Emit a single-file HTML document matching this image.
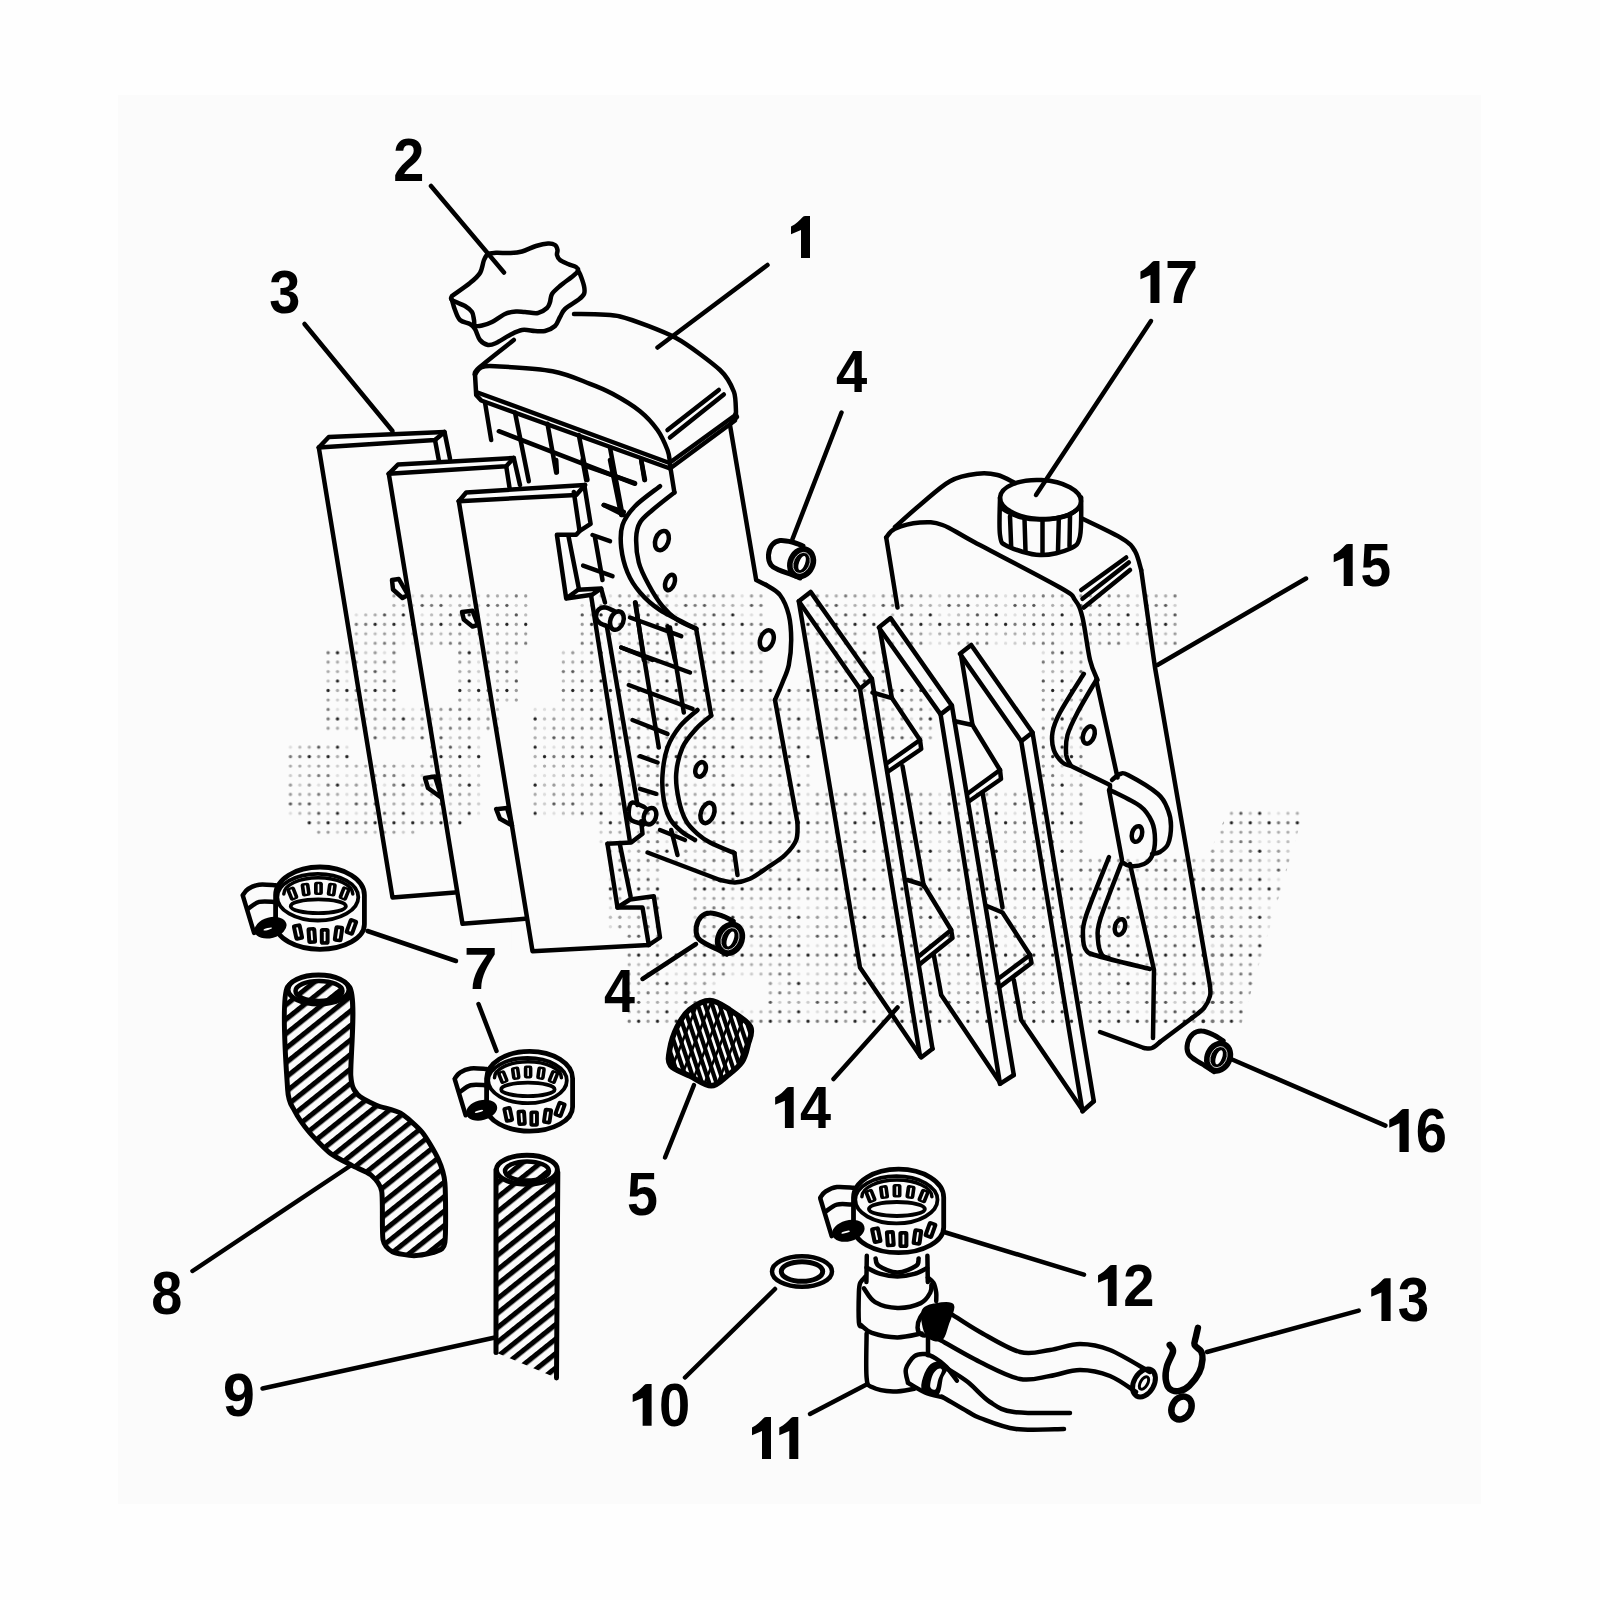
<!DOCTYPE html>
<html><head><meta charset="utf-8"><style>
html,body{margin:0;padding:0;background:#fefefe;width:1600px;height:1600px;overflow:hidden;font-family:"Liberation Sans",sans-serif}
svg{position:absolute;left:0;top:0}
</style></head><body>
<svg width="1600" height="1600" viewBox="0 0 1600 1600">
<defs>
<pattern id="dots" x="323.40" y="591.27" width="65.87" height="66.15" patternUnits="userSpaceOnUse"><circle cx="4.71" cy="4.72" r="1.65" fill="#999"/><circle cx="14.12" cy="4.72" r="1.65" fill="#aaa"/><circle cx="23.52" cy="4.72" r="1.65" fill="#ddd"/><circle cx="32.94" cy="4.72" r="1.65" fill="#999"/><circle cx="42.34" cy="4.72" r="1.65" fill="#aaa"/><circle cx="51.76" cy="4.72" r="1.65" fill="#aaa"/><circle cx="61.16" cy="4.72" r="1.65" fill="#777"/><circle cx="4.71" cy="14.17" r="1.65" fill="#aaa"/><circle cx="14.12" cy="14.17" r="1.65" fill="#aaa"/><circle cx="23.52" cy="14.17" r="1.65" fill="#ccc"/><circle cx="32.94" cy="14.17" r="1.65" fill="#555"/><circle cx="42.34" cy="14.17" r="1.65" fill="#777"/><circle cx="51.76" cy="14.17" r="1.65" fill="#555"/><circle cx="61.16" cy="14.17" r="1.65" fill="#ccc"/><circle cx="4.71" cy="23.62" r="1.65" fill="#bbb"/><circle cx="14.12" cy="23.62" r="1.65" fill="#222"/><circle cx="23.52" cy="23.62" r="1.65" fill="#ddd"/><circle cx="32.94" cy="23.62" r="1.65" fill="#ddd"/><circle cx="42.34" cy="23.62" r="1.65" fill="#bbb"/><circle cx="51.76" cy="23.62" r="1.65" fill="#aaa"/><circle cx="61.16" cy="23.62" r="1.65" fill="#555"/><circle cx="4.71" cy="33.07" r="1.65" fill="#222"/><circle cx="14.12" cy="33.07" r="1.65" fill="#aaa"/><circle cx="23.52" cy="33.07" r="1.65" fill="#222"/><circle cx="32.94" cy="33.07" r="1.65" fill="#777"/><circle cx="42.34" cy="33.07" r="1.65" fill="#777"/><circle cx="51.76" cy="33.07" r="1.65" fill="#222"/><circle cx="61.16" cy="33.07" r="1.65" fill="#999"/><circle cx="4.71" cy="42.52" r="1.65" fill="#999"/><circle cx="14.12" cy="42.52" r="1.65" fill="#ccc"/><circle cx="23.52" cy="42.52" r="1.65" fill="#aaa"/><circle cx="32.94" cy="42.52" r="1.65" fill="#aaa"/><circle cx="42.34" cy="42.52" r="1.65" fill="#aaa"/><circle cx="51.76" cy="42.52" r="1.65" fill="#bbb"/><circle cx="61.16" cy="42.52" r="1.65" fill="#999"/><circle cx="4.71" cy="51.97" r="1.65" fill="#777"/><circle cx="14.12" cy="51.97" r="1.65" fill="#ddd"/><circle cx="23.52" cy="51.97" r="1.65" fill="#ddd"/><circle cx="32.94" cy="51.97" r="1.65" fill="#ccc"/><circle cx="42.34" cy="51.97" r="1.65" fill="#bbb"/><circle cx="51.76" cy="51.97" r="1.65" fill="#999"/><circle cx="61.16" cy="51.97" r="1.65" fill="#777"/><circle cx="4.71" cy="61.42" r="1.65" fill="#777"/><circle cx="14.12" cy="61.42" r="1.65" fill="#222"/><circle cx="23.52" cy="61.42" r="1.65" fill="#bbb"/><circle cx="32.94" cy="61.42" r="1.65" fill="#999"/><circle cx="42.34" cy="61.42" r="1.65" fill="#ccc"/><circle cx="51.76" cy="61.42" r="1.65" fill="#999"/><circle cx="61.16" cy="61.42" r="1.65" fill="#ddd"/></pattern>
<pattern id="hatch" width="11.3" height="20" patternUnits="userSpaceOnUse" patternTransform="rotate(51.3)">
<rect x="0" y="0" width="5.1" height="20" fill="#000"/>
</pattern>
</defs>
<rect x="118" y="95" width="1363" height="1409" fill="#fbfbfb"/>
<rect x="389.27" y="591.27" width="141.15" height="18.90" fill="url(#dots)"/>
<rect x="351.62" y="610.17" width="178.79" height="37.80" fill="url(#dots)"/>
<rect x="323.40" y="647.98" width="75.28" height="56.70" fill="url(#dots)"/>
<rect x="455.13" y="647.98" width="65.87" height="56.70" fill="url(#dots)"/>
<rect x="323.40" y="704.67" width="178.79" height="28.35" fill="url(#dots)"/>
<rect x="370.45" y="733.02" width="112.92" height="9.45" fill="url(#dots)"/>
<rect x="426.91" y="742.48" width="56.46" height="18.90" fill="url(#dots)"/>
<rect x="285.75" y="742.48" width="65.87" height="18.90" fill="url(#dots)"/>
<rect x="285.75" y="761.38" width="197.61" height="56.70" fill="url(#dots)"/>
<rect x="304.58" y="818.08" width="159.97" height="9.45" fill="url(#dots)"/>
<rect x="313.99" y="827.52" width="103.51" height="9.45" fill="url(#dots)"/>
<rect x="577.47" y="591.27" width="602.24" height="56.70" fill="url(#dots)"/>
<rect x="558.64" y="647.98" width="536.37" height="56.70" fill="url(#dots)"/>
<rect x="530.41" y="704.67" width="564.60" height="141.75" fill="url(#dots)"/>
<rect x="605.70" y="846.42" width="489.32" height="85.05" fill="url(#dots)"/>
<rect x="624.52" y="931.47" width="470.50" height="94.50" fill="url(#dots)"/>
<rect x="1095.01" y="855.88" width="131.74" height="170.10" fill="url(#dots)"/>
<path d="M1230 807.6 L1305 807.6 L1241 1026 L1201.4 1026 L1201.4 870 Z" fill="url(#dots)"/>
<rect x="765.66" y="591.27" width="37.64" height="94.50" fill="#fbfbfb"/>
<rect x="888.00" y="647.98" width="150.56" height="37.80" fill="#fbfbfb"/>
<rect x="935.05" y="685.77" width="103.51" height="56.70" fill="#fbfbfb"/>
<rect x="812.72" y="742.48" width="225.84" height="47.25" fill="#fbfbfb"/>
<rect x="1085.61" y="647.98" width="94.10" height="207.90" fill="#fbfbfb"/>
<rect x="511.60" y="818.08" width="84.69" height="132.30" fill="#fbfbfb"/>
<rect x="662.15" y="865.33" width="28.23" height="85.05" fill="#fbfbfb"/>
<rect x="718.62" y="978.72" width="47.05" height="28.35" fill="#fbfbfb"/>
<path d="M803 546 C801.2 545.3 795.8 542.9 792 542 C788.2 541.1 783.3 540 780 540.5 C776.7 541 773.9 542.6 772 545 C770.1 547.4 768.7 551.7 768.5 555 C768.3 558.3 769.2 562.5 771 565 C772.8 567.5 775.8 568.5 779 570 C782.2 571.5 786.5 572.7 790 574 C793.5 575.3 798.3 577.3 800 578" fill="none" stroke="#000" stroke-width="5" stroke-linecap="round" stroke-linejoin="round"/>
<ellipse cx="801.6" cy="562.9" rx="11.5" ry="14.5" transform="rotate(25 801.6 562.9)" fill="#000" stroke="#000" stroke-width="5"/>
<ellipse cx="801.6" cy="562.9" rx="8" ry="11" transform="rotate(25 801.6 562.9)" fill="none" stroke="#fff" stroke-width="0.7"/>
<ellipse cx="802.1" cy="562.9" rx="3" ry="7.5" transform="rotate(20 801.6 562.9)" fill="#fff"/>
<path d="M733.3 921.3 C731.5 920.4 726.2 917.2 722.3 915.9 C718.4 914.5 713.4 912.8 709.9 913 C706.4 913.1 703.3 914.5 701.1 916.8 C698.8 919.1 696.8 923.4 696.3 926.9 C695.8 930.3 696.3 934.8 697.8 937.6 C699.4 940.4 702.5 941.8 705.6 943.7 C708.8 945.6 713.2 947.3 716.7 949.1 C720.2 950.8 725 953.5 726.7 954.3" fill="none" stroke="#000" stroke-width="5" stroke-linecap="round" stroke-linejoin="round"/>
<ellipse cx="730" cy="938.8" rx="12.1" ry="15.2" transform="rotate(25 730 938.8)" fill="#000" stroke="#000" stroke-width="5"/>
<ellipse cx="730" cy="938.8" rx="8.4" ry="11.6" transform="rotate(25 730 938.8)" fill="none" stroke="#fff" stroke-width="0.7"/>
<ellipse cx="730.5" cy="938.8" rx="3.2" ry="7.9" transform="rotate(20 730 938.8)" fill="#fff"/>
<path d="M1223.2 1040.8 C1221.5 1039.8 1216.8 1036.4 1213.2 1034.8 C1209.6 1033.1 1205 1031.1 1201.7 1031 C1198.3 1030.8 1195.3 1031.9 1193 1033.9 C1190.6 1035.9 1188.4 1039.8 1187.6 1043 C1186.8 1046.3 1186.9 1050.5 1188.2 1053.3 C1189.4 1056.1 1192.2 1057.7 1195.1 1059.8 C1197.9 1061.8 1201.9 1063.8 1205.1 1065.8 C1208.3 1067.8 1212.6 1070.6 1214.1 1071.6" fill="none" stroke="#000" stroke-width="5" stroke-linecap="round" stroke-linejoin="round"/>
<ellipse cx="1218.6" cy="1057.1" rx="11.5" ry="14.5" transform="rotate(25 1218.6 1057.1)" fill="#000" stroke="#000" stroke-width="5"/>
<ellipse cx="1218.6" cy="1057.1" rx="8" ry="11" transform="rotate(25 1218.6 1057.1)" fill="none" stroke="#fff" stroke-width="0.7"/>
<ellipse cx="1219.1" cy="1057.1" rx="3" ry="7.5" transform="rotate(20 1218.6 1057.1)" fill="#fff"/>
<path d="M798.8 601.2 L810.6 591.9 L871.9 678.8 L860 688.8 L798.8 601.2" fill="none" stroke="#000" stroke-width="4.5" stroke-linecap="round" stroke-linejoin="round"/>
<path d="M798.8 601.2 L860 967.5 L921.2 1057.5 L932.5 1048.8" fill="none" stroke="#000" stroke-width="4.5" stroke-linecap="round" stroke-linejoin="round"/>
<path d="M860 688.8 L920 1056" fill="none" stroke="#000" stroke-width="4.5" stroke-linecap="round" stroke-linejoin="round"/>
<path d="M871.9 678.8 L932.5 1048.8" fill="none" stroke="#000" stroke-width="4.5" stroke-linecap="round" stroke-linejoin="round"/>
<path d="M872.5 692.5 L891.9 698.1 L920 740 L888.1 762.5" fill="none" stroke="#000" stroke-width="4.5" stroke-linecap="round" stroke-linejoin="round"/>
<path d="M920 740 L921.2 749 L887.5 772" fill="none" stroke="#000" stroke-width="4.5" stroke-linecap="round" stroke-linejoin="round"/>
<path d="M880 630 L891.9 698.1" fill="none" stroke="#000" stroke-width="4.5" stroke-linecap="round" stroke-linejoin="round"/>
<path d="M902.5 766.2 L923.8 886.2" fill="none" stroke="#000" stroke-width="4.5" stroke-linecap="round" stroke-linejoin="round"/>
<path d="M933.8 955 L941.2 995 L1000 1082.5" fill="none" stroke="#000" stroke-width="4.5" stroke-linecap="round" stroke-linejoin="round"/>
<path d="M907.5 880 L923.8 885 L951.2 930 L918.8 956.2" fill="none" stroke="#000" stroke-width="4.5" stroke-linecap="round" stroke-linejoin="round"/>
<path d="M951.2 930 L952.5 938 L920 964" fill="none" stroke="#000" stroke-width="4.5" stroke-linecap="round" stroke-linejoin="round"/>
<path d="M878.8 627.5 L890.6 618.1 L951.9 705.6 L940.6 714.4 L878.8 627.5" fill="none" stroke="#000" stroke-width="4.5" stroke-linecap="round" stroke-linejoin="round"/>
<path d="M940.6 714.4 L1000 1083.8" fill="none" stroke="#000" stroke-width="4.5" stroke-linecap="round" stroke-linejoin="round"/>
<path d="M951.9 705.6 L1013.8 1075" fill="none" stroke="#000" stroke-width="4.5" stroke-linecap="round" stroke-linejoin="round"/>
<path d="M1000 1083.8 L1013.8 1075" fill="none" stroke="#000" stroke-width="4.5" stroke-linecap="round" stroke-linejoin="round"/>
<path d="M955 721.2 L972.5 725 L1000 770 L967.5 793.8" fill="none" stroke="#000" stroke-width="4.5" stroke-linecap="round" stroke-linejoin="round"/>
<path d="M1000 770 L1001 779 L968 802" fill="none" stroke="#000" stroke-width="4.5" stroke-linecap="round" stroke-linejoin="round"/>
<path d="M961 655 L972.5 725" fill="none" stroke="#000" stroke-width="4.5" stroke-linecap="round" stroke-linejoin="round"/>
<path d="M982.5 792.5 L1002.5 907.5" fill="none" stroke="#000" stroke-width="4.5" stroke-linecap="round" stroke-linejoin="round"/>
<path d="M1013.8 980 L1021.2 1020 L1082.5 1110" fill="none" stroke="#000" stroke-width="4.5" stroke-linecap="round" stroke-linejoin="round"/>
<path d="M987.5 906.2 L1002.5 912.5 L1030 955 L1000 977.5" fill="none" stroke="#000" stroke-width="4.5" stroke-linecap="round" stroke-linejoin="round"/>
<path d="M1030 955 L1031.5 963 L999.5 987" fill="none" stroke="#000" stroke-width="4.5" stroke-linecap="round" stroke-linejoin="round"/>
<path d="M960 653.8 L971.2 645 L1032.5 732.5 L1021.2 741.2 L960 653.8" fill="none" stroke="#000" stroke-width="4.5" stroke-linecap="round" stroke-linejoin="round"/>
<path d="M1021.2 741.2 L1082.5 1111.2" fill="none" stroke="#000" stroke-width="4.5" stroke-linecap="round" stroke-linejoin="round"/>
<path d="M1032.5 732.5 L1093.8 1101.2" fill="none" stroke="#000" stroke-width="4.5" stroke-linecap="round" stroke-linejoin="round"/>
<path d="M1082.5 1111.2 L1093.8 1101.2" fill="none" stroke="#000" stroke-width="4.5" stroke-linecap="round" stroke-linejoin="round"/>
<path d="M895 527 C899.2 523.3 910.8 512.6 920 505 C929.2 497.4 940.4 486.5 950 481.2 C959.6 476 969.6 474.8 977.5 473.8 C985.4 472.7 991.2 473.5 997.5 475 C1003.8 476.5 1012.1 481.7 1015 483" fill="none" stroke="#000" stroke-width="4.5" stroke-linecap="round" stroke-linejoin="round"/>
<path d="M886.2 537.5 C887.7 536 889.4 531.2 895 528.8 C900.6 526.2 912.1 523.1 920 522.5 C927.9 521.9 933.3 521.7 942.5 525 C951.7 528.3 955.4 532.1 975 542.5 C994.6 552.9 1043.3 577.9 1060 587.5 C1076.7 597.1 1071.2 595 1075 600 C1078.8 605 1080 607.5 1082.5 617.5 C1085 627.5 1087.5 649.6 1090 660 C1092.5 670.4 1096.2 676.7 1097.5 680" fill="none" stroke="#000" stroke-width="4.5" stroke-linecap="round" stroke-linejoin="round"/>
<path d="M886.2 537.5 L897.5 607.5" fill="none" stroke="#000" stroke-width="4.5" stroke-linecap="round" stroke-linejoin="round"/>
<path d="M1082.5 518.8 C1089.2 522.1 1113.8 533.3 1122.5 538.8 C1131.2 544.2 1131.9 546 1135 551.2 C1138.1 556.5 1140.2 566.9 1141.2 570" fill="none" stroke="#000" stroke-width="4.5" stroke-linecap="round" stroke-linejoin="round"/>
<path d="M1141.2 570 L1155 667.5 L1210 986" fill="none" stroke="#000" stroke-width="4.5" stroke-linecap="round" stroke-linejoin="round"/>
<path d="M1210 986 C1210 987.7 1211 992.3 1210 996 C1209 999.7 1207 1004.3 1204 1008 C1201 1011.7 1194 1016.3 1192 1018" fill="none" stroke="#000" stroke-width="4.5" stroke-linecap="round" stroke-linejoin="round"/>
<path d="M1192 1018 L1160 1042" fill="none" stroke="#000" stroke-width="4.5" stroke-linecap="round" stroke-linejoin="round"/>
<path d="M1160 1042 C1158.7 1043 1154.7 1047 1152 1048 C1149.3 1049 1145.3 1048 1144 1048" fill="none" stroke="#000" stroke-width="4.5" stroke-linecap="round" stroke-linejoin="round"/>
<path d="M1144 1048 L1100 1032" fill="none" stroke="#000" stroke-width="4.5" stroke-linecap="round" stroke-linejoin="round"/>
<path d="M1081.2 590 L1126.2 557.5" fill="none" stroke="#000" stroke-width="4.5" stroke-linecap="round" stroke-linejoin="round"/>
<path d="M1082.5 598.8 L1128.8 562.5" fill="none" stroke="#000" stroke-width="4.5" stroke-linecap="round" stroke-linejoin="round"/>
<path d="M1083.8 607.5 L1130 570" fill="none" stroke="#000" stroke-width="4.5" stroke-linecap="round" stroke-linejoin="round"/>
<path d="M1083.8 673.8 C1079.8 680.2 1065.2 702.7 1060 712.5 C1054.8 722.3 1053.5 726.2 1052.5 732.5 C1051.5 738.8 1052.1 745 1053.8 750 C1055.4 755 1059.8 759.9 1062.5 762.5 C1065.2 765.1 1068.8 765 1070 765.5" fill="none" stroke="#000" stroke-width="4.5" stroke-linecap="round" stroke-linejoin="round"/>
<path d="M1096.2 680 C1093.1 685.4 1082.3 703.3 1077.5 712.5 C1072.7 721.7 1069.4 727.9 1067.5 735 C1065.6 742.1 1065.8 750 1066.2 755 C1066.8 760 1069.8 763.3 1070.5 765" fill="none" stroke="#000" stroke-width="4.5" stroke-linecap="round" stroke-linejoin="round"/>
<path d="M1070 765.5 L1110 785 L1110 788" fill="none" stroke="#000" stroke-width="4.5" stroke-linecap="round" stroke-linejoin="round"/>
<path d="M1096.2 680 L1117.5 777.5" fill="none" stroke="#000" stroke-width="4.5" stroke-linecap="round" stroke-linejoin="round"/>
<ellipse cx="1088.8" cy="735" rx="5.5" ry="9" transform="rotate(20 1088.8 735)" fill="none" stroke="#000" stroke-width="4.5"/>
<path d="M1112 780 C1113.3 779 1117.3 774.8 1120 774 C1122.7 773.2 1121.7 771.7 1128 775 C1134.3 778.3 1151.3 788.2 1158 794 C1164.7 799.8 1165.8 804.7 1168 810 C1170.2 815.3 1171 820.3 1171 826 C1171 831.7 1169.8 839.7 1168 844 C1166.2 848.3 1162.7 850.3 1160 852 C1157.3 853.7 1153.3 853.7 1152 854" fill="none" stroke="#000" stroke-width="4.5" stroke-linecap="round" stroke-linejoin="round"/>
<path d="M1110 790 C1115 792.7 1133 800.7 1140 806 C1147 811.3 1149.5 816.3 1152 822 C1154.5 827.7 1155 834.3 1155 840 C1155 845.7 1153.8 852 1152 856 C1150.2 860 1147.7 862.3 1144 864 C1140.3 865.7 1133.7 866.3 1130 866 C1126.3 865.7 1123.3 862.7 1122 862" fill="none" stroke="#000" stroke-width="4.5" stroke-linecap="round" stroke-linejoin="round"/>
<path d="M1109 790 L1122 860" fill="none" stroke="#000" stroke-width="4.5" stroke-linecap="round" stroke-linejoin="round"/>
<ellipse cx="1137" cy="834" rx="5" ry="8" transform="rotate(15 1137 834)" fill="none" stroke="#000" stroke-width="4.5"/>
<path d="M1109 857 C1105.2 866.8 1090.3 902.8 1086 916 C1081.7 929.2 1083 930.3 1083 936 C1083 941.7 1083.5 946.7 1086 950 C1088.5 953.3 1087.3 952.8 1098 956 C1108.7 959.2 1141.3 966.8 1150 969" fill="none" stroke="#000" stroke-width="4.5" stroke-linecap="round" stroke-linejoin="round"/>
<path d="M1121 864 C1117.5 873.3 1103.8 907.3 1100 920 C1096.2 932.7 1097.7 934.2 1098 940 C1098.3 945.8 1100.2 952 1102 955 C1103.8 958 1107.8 957.5 1109 958" fill="none" stroke="#000" stroke-width="4.5" stroke-linecap="round" stroke-linejoin="round"/>
<path d="M1130 864 L1154 970 L1153 1038" fill="none" stroke="#000" stroke-width="4.5" stroke-linecap="round" stroke-linejoin="round"/>
<ellipse cx="1120" cy="927" rx="5" ry="8" transform="rotate(15 1120 927)" fill="none" stroke="#000" stroke-width="4.5"/>
<ellipse cx="1040.5" cy="499.5" rx="40.5" ry="19.5" transform="rotate(3 1040.5 499.5)" fill="none" stroke="#000" stroke-width="4.5"/>
<path d="M1000 497.5 C1000 503.8 998.8 526.9 1000 535 C1001.2 543.1 1000.8 542.9 1007.5 546.2 C1014.2 549.6 1029.6 554.6 1040 555 C1050.4 555.4 1063.3 551.9 1070 548.8 C1076.7 545.6 1078.1 544.8 1080 536.2 C1081.9 527.7 1081 504 1081.2 497.5" fill="none" stroke="#000" stroke-width="4.5" stroke-linecap="round" stroke-linejoin="round"/>
<path d="M1002 508.8 C1005 510.1 1013.2 515.2 1020 517 C1026.8 518.8 1034.6 519.8 1042.5 519.5 C1050.4 519.2 1061.3 517.5 1067.5 515.5 C1073.7 513.5 1077.5 508.8 1079.5 507.5" fill="none" stroke="#000" stroke-width="4.5" stroke-linecap="round" stroke-linejoin="round"/>
<path d="M1010 516.2 L1011.2 547.5" fill="none" stroke="#000" stroke-width="4.5" stroke-linecap="round" stroke-linejoin="round"/>
<path d="M1024.5 518.8 L1025.5 551.2" fill="none" stroke="#000" stroke-width="4.5" stroke-linecap="round" stroke-linejoin="round"/>
<path d="M1042.5 520 L1042.5 553.8" fill="none" stroke="#000" stroke-width="4.5" stroke-linecap="round" stroke-linejoin="round"/>
<path d="M1058.8 518.8 L1058 551.2" fill="none" stroke="#000" stroke-width="4.5" stroke-linecap="round" stroke-linejoin="round"/>
<path d="M1070 516.2 L1069.5 546.2" fill="none" stroke="#000" stroke-width="4.5" stroke-linecap="round" stroke-linejoin="round"/>
<path d="M275.6 895 A44.4 28 0 0 1 364.4 895 L364.4 924.3 A44.4 25 0 0 1 275.6 924.3 Z" fill="#fbfbfb" stroke="#000" stroke-width="4.8" stroke-linecap="round" stroke-linejoin="round"/>
<ellipse cx="317.8" cy="897.2" rx="40.5" ry="23.3" transform="rotate(0 317.8 897.2)" fill="none" stroke="#000" stroke-width="3.8"/>
<path d="M283.8 894.1 A34.5 16.4 0 0 1 352.8 894.1" fill="none" stroke="#000" stroke-width="3.5" stroke-linecap="round" stroke-linejoin="round"/>
<ellipse cx="318.3" cy="906.2" rx="27.6" ry="6.9" transform="rotate(0 318.3 906.2)" fill="none" stroke="#000" stroke-width="3.8"/>
<rect x="287.9" y="886.9" width="8.9" height="13.3" rx="2.5" fill="#000" transform="rotate(-22 292.4 893.5)"/>
<rect x="291.6" y="889.1" width="1.6" height="8.9" rx="0.8" fill="#fbfbfb" transform="rotate(-22 292.4 893.5)"/>
<rect x="301.2" y="882.9" width="8.9" height="13.3" rx="2.5" fill="#000" transform="rotate(-8 305.7 889.6)"/>
<rect x="304.9" y="885.1" width="1.6" height="8.9" rx="0.8" fill="#fbfbfb" transform="rotate(-8 305.7 889.6)"/>
<rect x="314" y="881.7" width="8.9" height="13.3" rx="2.5" fill="#000" transform="rotate(0 318.5 888.3)"/>
<rect x="317.7" y="883.9" width="1.6" height="8.9" rx="0.8" fill="#fbfbfb" transform="rotate(0 318.5 888.3)"/>
<rect x="327.3" y="882.9" width="8.9" height="13.3" rx="2.5" fill="#000" transform="rotate(8 331.8 889.6)"/>
<rect x="331" y="885.1" width="1.6" height="8.9" rx="0.8" fill="#fbfbfb" transform="rotate(8 331.8 889.6)"/>
<rect x="340.1" y="886.9" width="8.9" height="13.3" rx="2.5" fill="#000" transform="rotate(22 344.6 893.5)"/>
<rect x="343.8" y="889.1" width="1.6" height="8.9" rx="0.8" fill="#fbfbfb" transform="rotate(22 344.6 893.5)"/>
<rect x="293.1" y="923.7" width="9.8" height="16.7" rx="2.8" fill="#000" transform="rotate(-12 298 932)"/>
<rect x="297.1" y="927.1" width="1.8" height="9.8" rx="0.9" fill="#fbfbfb" transform="rotate(-12 298 932)"/>
<rect x="306.9" y="927.1" width="9.8" height="16.7" rx="2.8" fill="#000" transform="rotate(-4 311.8 935.5)"/>
<rect x="310.9" y="930.6" width="1.8" height="9.8" rx="0.9" fill="#fbfbfb" transform="rotate(-4 311.8 935.5)"/>
<rect x="319.8" y="928" width="9.8" height="16.7" rx="2.8" fill="#000" transform="rotate(0 324.7 936.4)"/>
<rect x="323.8" y="931.4" width="1.8" height="9.8" rx="0.9" fill="#fbfbfb" transform="rotate(0 324.7 936.4)"/>
<rect x="333.6" y="925.4" width="9.8" height="16.7" rx="2.8" fill="#000" transform="rotate(8 338.5 933.8)"/>
<rect x="337.6" y="928.9" width="1.8" height="9.8" rx="0.9" fill="#fbfbfb" transform="rotate(8 338.5 933.8)"/>
<rect x="346.5" y="918.5" width="9.8" height="16.7" rx="2.8" fill="#000" transform="rotate(20 351.4 926.9)"/>
<rect x="350.5" y="922" width="1.8" height="9.8" rx="0.9" fill="#fbfbfb" transform="rotate(20 351.4 926.9)"/>
<path d="M275.7 885.3 C272.9 885.2 263.8 884.1 259.2 884.7 C254.6 885.3 250.8 887.3 248.1 889 C245.4 890.7 243.7 894 242.9 895" fill="none" stroke="#000" stroke-width="4.5" stroke-linecap="round" stroke-linejoin="round"/>
<path d="M242.9 895.9 L254.1 932.9" fill="none" stroke="#000" stroke-width="4.5" stroke-linecap="round" stroke-linejoin="round"/>
<path d="M248.1 908.8 C250 907.6 254.8 903 259.2 901.9 C263.7 900.7 272.2 901.9 274.8 901.9" fill="none" stroke="#000" stroke-width="4.5" stroke-linecap="round" stroke-linejoin="round"/>
<ellipse cx="270.5" cy="927.7" rx="16.4" ry="10.3" transform="rotate(-15 270.5 927.7)" fill="#000"/>
<ellipse cx="267.8" cy="929" rx="4.4" ry="1" transform="rotate(-15 267.8 929)" fill="#fff"/>
<path d="M486.6 1078.5 A43 27.2 0 0 1 572.6 1078.5 L572.6 1106.9 A43 24.2 0 0 1 486.6 1106.9 Z" fill="#fbfbfb" stroke="#000" stroke-width="4.8" stroke-linecap="round" stroke-linejoin="round"/>
<ellipse cx="527.5" cy="1080.6" rx="39.3" ry="22.6" transform="rotate(0 527.5 1080.6)" fill="none" stroke="#000" stroke-width="3.8"/>
<path d="M494.5 1077.7 A33.4 15.9 0 0 1 561.4 1077.7" fill="none" stroke="#000" stroke-width="3.5" stroke-linecap="round" stroke-linejoin="round"/>
<ellipse cx="527.9" cy="1089.4" rx="26.7" ry="6.7" transform="rotate(0 527.9 1089.4)" fill="none" stroke="#000" stroke-width="3.8"/>
<rect x="498.5" y="1070.6" width="8.6" height="12.9" rx="2.4" fill="#000" transform="rotate(-22 502.9 1077.1)"/>
<rect x="502.1" y="1072.8" width="1.5" height="8.6" rx="0.8" fill="#fbfbfb" transform="rotate(-22 502.9 1077.1)"/>
<rect x="511.4" y="1066.8" width="8.6" height="12.9" rx="2.4" fill="#000" transform="rotate(-8 515.8 1073.2)"/>
<rect x="515" y="1069" width="1.5" height="8.6" rx="0.8" fill="#fbfbfb" transform="rotate(-8 515.8 1073.2)"/>
<rect x="523.8" y="1065.6" width="8.6" height="12.9" rx="2.4" fill="#000" transform="rotate(0 528.2 1072)"/>
<rect x="527.4" y="1067.7" width="1.5" height="8.6" rx="0.8" fill="#fbfbfb" transform="rotate(0 528.2 1072)"/>
<rect x="536.7" y="1066.8" width="8.6" height="12.9" rx="2.4" fill="#000" transform="rotate(8 541.1 1073.2)"/>
<rect x="540.3" y="1069" width="1.5" height="8.6" rx="0.8" fill="#fbfbfb" transform="rotate(8 541.1 1073.2)"/>
<rect x="549.1" y="1070.6" width="8.6" height="12.9" rx="2.4" fill="#000" transform="rotate(22 553.5 1077.1)"/>
<rect x="552.7" y="1072.8" width="1.5" height="8.6" rx="0.8" fill="#fbfbfb" transform="rotate(22 553.5 1077.1)"/>
<rect x="503.5" y="1106.3" width="9.5" height="16.2" rx="2.7" fill="#000" transform="rotate(-12 508.3 1114.4)"/>
<rect x="507.4" y="1109.6" width="1.7" height="9.5" rx="0.9" fill="#fbfbfb" transform="rotate(-12 508.3 1114.4)"/>
<rect x="516.9" y="1109.6" width="9.5" height="16.2" rx="2.7" fill="#000" transform="rotate(-4 521.7 1117.8)"/>
<rect x="520.8" y="1113" width="1.7" height="9.5" rx="0.9" fill="#fbfbfb" transform="rotate(-4 521.7 1117.8)"/>
<rect x="529.4" y="1110.5" width="9.5" height="16.2" rx="2.7" fill="#000" transform="rotate(0 534.2 1118.6)"/>
<rect x="533.3" y="1113.8" width="1.7" height="9.5" rx="0.9" fill="#fbfbfb" transform="rotate(0 534.2 1118.6)"/>
<rect x="542.8" y="1108" width="9.5" height="16.2" rx="2.7" fill="#000" transform="rotate(8 547.6 1116.1)"/>
<rect x="546.7" y="1111.4" width="1.7" height="9.5" rx="0.9" fill="#fbfbfb" transform="rotate(8 547.6 1116.1)"/>
<rect x="555.3" y="1101.3" width="9.5" height="16.2" rx="2.7" fill="#000" transform="rotate(20 560.1 1109.4)"/>
<rect x="559.2" y="1104.7" width="1.7" height="9.5" rx="0.9" fill="#fbfbfb" transform="rotate(20 560.1 1109.4)"/>
<path d="M486.6 1069.1 C484 1069 475.1 1067.9 470.7 1068.5 C466.2 1069.1 462.5 1071 459.9 1072.7 C457.2 1074.3 455.7 1077.5 454.8 1078.5" fill="none" stroke="#000" stroke-width="4.5" stroke-linecap="round" stroke-linejoin="round"/>
<path d="M454.8 1079.4 L465.7 1115.3" fill="none" stroke="#000" stroke-width="4.5" stroke-linecap="round" stroke-linejoin="round"/>
<path d="M459.9 1091.9 C461.7 1090.8 466.4 1086.3 470.7 1085.2 C475 1084.1 483.3 1085.2 485.8 1085.2" fill="none" stroke="#000" stroke-width="4.5" stroke-linecap="round" stroke-linejoin="round"/>
<ellipse cx="481.6" cy="1110.2" rx="15.9" ry="10" transform="rotate(-15 481.6 1110.2)" fill="#000"/>
<ellipse cx="479" cy="1111.4" rx="4.3" ry="1" transform="rotate(-15 479 1111.4)" fill="#fff"/>
<path d="M853.5 1197.6 A45.1 28.4 0 0 1 943.7 1197.6 L943.7 1227.3 A45.1 25.4 0 0 1 853.5 1227.3 Z" fill="#fbfbfb" stroke="#000" stroke-width="4.8" stroke-linecap="round" stroke-linejoin="round"/>
<ellipse cx="896.4" cy="1199.8" rx="41.1" ry="23.6" transform="rotate(0 896.4 1199.8)" fill="none" stroke="#000" stroke-width="3.8"/>
<path d="M861.9 1196.7 A35 16.6 0 0 1 931.9 1196.7" fill="none" stroke="#000" stroke-width="3.5" stroke-linecap="round" stroke-linejoin="round"/>
<ellipse cx="896.9" cy="1209" rx="28" ry="7" transform="rotate(0 896.9 1209)" fill="none" stroke="#000" stroke-width="3.8"/>
<rect x="866" y="1189.3" width="9" height="13.5" rx="2.5" fill="#000" transform="rotate(-22 870.6 1196.1)"/>
<rect x="869.8" y="1191.6" width="1.6" height="9" rx="0.8" fill="#fbfbfb" transform="rotate(-22 870.6 1196.1)"/>
<rect x="879.5" y="1185.3" width="9" height="13.5" rx="2.5" fill="#000" transform="rotate(-8 884.1 1192.1)"/>
<rect x="883.3" y="1187.6" width="1.6" height="9" rx="0.8" fill="#fbfbfb" transform="rotate(-8 884.1 1192.1)"/>
<rect x="892.5" y="1184" width="9" height="13.5" rx="2.5" fill="#000" transform="rotate(0 897.1 1190.8)"/>
<rect x="896.3" y="1186.3" width="1.6" height="9" rx="0.8" fill="#fbfbfb" transform="rotate(0 897.1 1190.8)"/>
<rect x="906" y="1185.3" width="9" height="13.5" rx="2.5" fill="#000" transform="rotate(8 910.6 1192.1)"/>
<rect x="909.8" y="1187.6" width="1.6" height="9" rx="0.8" fill="#fbfbfb" transform="rotate(8 910.6 1192.1)"/>
<rect x="919" y="1189.3" width="9" height="13.5" rx="2.5" fill="#000" transform="rotate(22 923.6 1196.1)"/>
<rect x="922.8" y="1191.6" width="1.6" height="9" rx="0.8" fill="#fbfbfb" transform="rotate(22 923.6 1196.1)"/>
<rect x="871.3" y="1226.7" width="10" height="17" rx="2.8" fill="#000" transform="rotate(-12 876.3 1235.2)"/>
<rect x="875.4" y="1230.2" width="1.8" height="10" rx="0.9" fill="#fbfbfb" transform="rotate(-12 876.3 1235.2)"/>
<rect x="885.3" y="1230.2" width="10" height="17" rx="2.8" fill="#000" transform="rotate(-4 890.3 1238.7)"/>
<rect x="889.4" y="1233.7" width="1.8" height="10" rx="0.9" fill="#fbfbfb" transform="rotate(-4 890.3 1238.7)"/>
<rect x="898.4" y="1231.1" width="10" height="17" rx="2.8" fill="#000" transform="rotate(0 903.4 1239.6)"/>
<rect x="902.5" y="1234.6" width="1.8" height="10" rx="0.9" fill="#fbfbfb" transform="rotate(0 903.4 1239.6)"/>
<rect x="912.4" y="1228.5" width="10" height="17" rx="2.8" fill="#000" transform="rotate(8 917.4 1237)"/>
<rect x="916.5" y="1232" width="1.8" height="10" rx="0.9" fill="#fbfbfb" transform="rotate(8 917.4 1237)"/>
<rect x="925.5" y="1221.5" width="10" height="17" rx="2.8" fill="#000" transform="rotate(20 930.5 1230)"/>
<rect x="929.6" y="1225" width="1.8" height="10" rx="0.9" fill="#fbfbfb" transform="rotate(20 930.5 1230)"/>
<path d="M853.6 1187.8 C850.8 1187.7 841.6 1186.5 836.9 1187.1 C832.2 1187.7 828.4 1189.8 825.6 1191.5 C822.8 1193.2 821.2 1196.6 820.3 1197.6" fill="none" stroke="#000" stroke-width="4.5" stroke-linecap="round" stroke-linejoin="round"/>
<path d="M820.3 1198.5 L831.7 1236.1" fill="none" stroke="#000" stroke-width="4.5" stroke-linecap="round" stroke-linejoin="round"/>
<path d="M825.6 1211.6 C827.5 1210.4 832.4 1205.8 836.9 1204.6 C841.4 1203.4 850.1 1204.6 852.7 1204.6" fill="none" stroke="#000" stroke-width="4.5" stroke-linecap="round" stroke-linejoin="round"/>
<ellipse cx="848.3" cy="1230.8" rx="16.6" ry="10.5" transform="rotate(-15 848.3 1230.8)" fill="#000"/>
<ellipse cx="845.6" cy="1232.1" rx="4.5" ry="1" transform="rotate(-15 845.6 1232.1)" fill="#fff"/>
<clipPath id="c8"><path d="M287.6 986.9 C280.4 998.8 286.8 1074.6 287.6 1089 C288.4 1103.4 291.9 1105.5 294.4 1110.5 C296.9 1115.5 304.9 1127 309.1 1132 C313.3 1137 325.6 1149.6 330.6 1153.5 C335.6 1157.4 347.5 1163.1 352.2 1165.6 C356.9 1168.1 367.6 1172 371 1175 C374.4 1178 380.3 1183.7 381.7 1191.2 C383.1 1198.7 381.7 1232.5 383 1239.6 C384.3 1246.7 388.9 1249.8 392.5 1251.7 C396.1 1253.6 409 1255.7 414 1255.7 C419 1255.7 431.9 1253.3 435.5 1251.7 C439.1 1250.1 443.8 1250.3 444.9 1242.3 C446 1234.3 445.7 1192.7 444.9 1183 C444.1 1173.3 440.9 1165 438.2 1159 C435.5 1153 426.4 1137.3 422 1132 C417.6 1126.7 405.8 1116.3 400.5 1113.2 C395.2 1110.1 381.3 1107.4 376.3 1105.2 C371.3 1103 360.5 1097.9 357.5 1094.4 C354.5 1090.9 351.7 1088.1 350.8 1075.6 C349.9 1063.1 356.9 997.2 349.5 986.9 C342.1 976.6 294.8 975 287.6 986.9Z"/></clipPath>
<rect x="270" y="960" width="200" height="310" fill="url(#hatch)" clip-path="url(#c8)"/>
<path d="M287.6 986.9 C280.4 998.8 286.8 1074.6 287.6 1089 C288.4 1103.4 291.9 1105.5 294.4 1110.5 C296.9 1115.5 304.9 1127 309.1 1132 C313.3 1137 325.6 1149.6 330.6 1153.5 C335.6 1157.4 347.5 1163.1 352.2 1165.6 C356.9 1168.1 367.6 1172 371 1175 C374.4 1178 380.3 1183.7 381.7 1191.2 C383.1 1198.7 381.7 1232.5 383 1239.6 C384.3 1246.7 388.9 1249.8 392.5 1251.7 C396.1 1253.6 409 1255.7 414 1255.7 C419 1255.7 431.9 1253.3 435.5 1251.7 C439.1 1250.1 443.8 1250.3 444.9 1242.3 C446 1234.3 445.7 1192.7 444.9 1183 C444.1 1173.3 440.9 1165 438.2 1159 C435.5 1153 426.4 1137.3 422 1132 C417.6 1126.7 405.8 1116.3 400.5 1113.2 C395.2 1110.1 381.3 1107.4 376.3 1105.2 C371.3 1103 360.5 1097.9 357.5 1094.4 C354.5 1090.9 351.7 1088.1 350.8 1075.6 C349.9 1063.1 356.9 997.2 349.5 986.9 C342.1 976.6 294.8 975 287.6 986.9Z" fill="none" stroke="#000" stroke-width="5" stroke-linecap="round" stroke-linejoin="round"/>
<ellipse cx="318.5" cy="989.6" rx="30.5" ry="14.5" transform="rotate(0 318.5 989.6)" fill="#fbfbfb" stroke="#000" stroke-width="5"/>
<ellipse cx="319" cy="991" rx="23.5" ry="10" fill="url(#hatch)"/>
<ellipse cx="319" cy="991" rx="23.5" ry="10" transform="rotate(0 319 991)" fill="none" stroke="#000" stroke-width="4.5"/>
<clipPath id="c9"><path d="M496 1169.7 L557.8 1172 L556.5 1378 L496 1352.5 Z"/></clipPath>
<rect x="480" y="1150" width="100" height="240" fill="url(#hatch)" clip-path="url(#c9)"/>
<path d="M496 1169.7 L496 1352.5" fill="none" stroke="#000" stroke-width="5" stroke-linecap="round" stroke-linejoin="round"/>
<path d="M557.8 1172 L556.5 1378" fill="none" stroke="#000" stroke-width="5" stroke-linecap="round" stroke-linejoin="round"/>
<ellipse cx="526.9" cy="1169.7" rx="30.5" ry="14.5" transform="rotate(0 526.9 1169.7)" fill="#fbfbfb" stroke="#000" stroke-width="5"/>
<ellipse cx="527" cy="1171" rx="22" ry="9.5" fill="url(#hatch)"/>
<ellipse cx="527" cy="1171" rx="22" ry="9.5" transform="rotate(0 527 1171)" fill="none" stroke="#000" stroke-width="4.5"/>
<path d="M709.9 1000.5 C716.6 1000.5 723.2 1005.6 730 1010 C736.8 1014.4 747.5 1020.9 750.5 1026.7 C753.5 1032.5 749.4 1039.1 748 1045 C746.6 1050.9 745.5 1056.8 742 1062 C738.5 1067.2 732.1 1072 727 1076 C721.9 1080 717.4 1085.8 711.2 1085.8 C705 1085.8 696.8 1079.4 690 1076 C683.2 1072.6 673.9 1070 670.5 1065.5 C667.1 1061 668.7 1055.4 669.8 1049 C670.9 1042.6 673.7 1033.5 677 1027 C680.3 1020.5 684 1014.1 689.5 1009.7 C695 1005.3 703.1 1000.5 709.9 1000.5Z" fill="#000" stroke="#000" stroke-width="4" stroke-linecap="round" stroke-linejoin="round"/>
<clipPath id="c5"><path d="M709.9 1000.5 C716.6 1000.5 723.2 1005.6 730 1010 C736.8 1014.4 747.5 1020.9 750.5 1026.7 C753.5 1032.5 749.4 1039.1 748 1045 C746.6 1050.9 745.5 1056.8 742 1062 C738.5 1067.2 732.1 1072 727 1076 C721.9 1080 717.4 1085.8 711.2 1085.8 C705 1085.8 696.8 1079.4 690 1076 C683.2 1072.6 673.9 1070 670.5 1065.5 C667.1 1061 668.7 1055.4 669.8 1049 C670.9 1042.6 673.7 1033.5 677 1027 C680.3 1020.5 684 1014.1 689.5 1009.7 C695 1005.3 703.1 1000.5 709.9 1000.5Z"/></clipPath>
<g clip-path="url(#c5)" fill="none">
<path d="M611.8 995 L644.8 1095" stroke="#fff" stroke-width="2.6"/>
<path d="M619.0 995 L652.0 1095" stroke="#fff" stroke-width="2.6"/>
<path d="M626.2 995 L659.2 1095" stroke="#fff" stroke-width="2.6"/>
<path d="M633.4 995 L666.4 1095" stroke="#fff" stroke-width="2.6"/>
<path d="M640.6 995 L673.6 1095" stroke="#fff" stroke-width="2.6"/>
<path d="M647.8 995 L680.8 1095" stroke="#fff" stroke-width="2.6"/>
<path d="M655.0 995 L688.0 1095" stroke="#fff" stroke-width="2.6"/>
<path d="M662.2 995 L695.2 1095" stroke="#fff" stroke-width="2.6"/>
<path d="M669.4 995 L702.4 1095" stroke="#fff" stroke-width="2.6"/>
<path d="M676.6 995 L709.6 1095" stroke="#fff" stroke-width="2.6"/>
<path d="M683.8 995 L716.8 1095" stroke="#fff" stroke-width="2.6"/>
<path d="M691.0 995 L724.0 1095" stroke="#fff" stroke-width="2.6"/>
<path d="M698.2 995 L731.2 1095" stroke="#fff" stroke-width="2.6"/>
<path d="M705.4 995 L738.4 1095" stroke="#fff" stroke-width="2.6"/>
<path d="M712.6 995 L745.6 1095" stroke="#fff" stroke-width="2.6"/>
<path d="M719.8 995 L752.8 1095" stroke="#fff" stroke-width="2.6"/>
<path d="M727.0 995 L760.0 1095" stroke="#fff" stroke-width="2.6"/>
<path d="M734.2 995 L767.2 1095" stroke="#fff" stroke-width="2.6"/>
<path d="M648.0 1095 L688.0 995" stroke="#000" stroke-width="2.6"/>
<path d="M661.0 1095 L701.0 995" stroke="#000" stroke-width="2.6"/>
<path d="M674.0 1095 L714.0 995" stroke="#000" stroke-width="2.6"/>
<path d="M687.0 1095 L727.0 995" stroke="#000" stroke-width="2.6"/>
<path d="M700.0 1095 L740.0 995" stroke="#000" stroke-width="2.6"/>
<path d="M713.0 1095 L753.0 995" stroke="#000" stroke-width="2.6"/>
<path d="M726.0 1095 L766.0 995" stroke="#000" stroke-width="2.6"/>
<path d="M739.0 1095 L779.0 995" stroke="#000" stroke-width="2.6"/>
<path d="M752.0 1095 L792.0 995" stroke="#000" stroke-width="2.6"/>
<path d="M765.0 1095 L805.0 995" stroke="#000" stroke-width="2.6"/>
<path d="M778.0 1095 L818.0 995" stroke="#000" stroke-width="2.6"/>
<path d="M791.0 1095 L831.0 995" stroke="#000" stroke-width="2.6"/>
</g>
<path d="M709.9 1000.5 C716.6 1000.5 723.2 1005.6 730 1010 C736.8 1014.4 747.5 1020.9 750.5 1026.7 C753.5 1032.5 749.4 1039.1 748 1045 C746.6 1050.9 745.5 1056.8 742 1062 C738.5 1067.2 732.1 1072 727 1076 C721.9 1080 717.4 1085.8 711.2 1085.8 C705 1085.8 696.8 1079.4 690 1076 C683.2 1072.6 673.9 1070 670.5 1065.5 C667.1 1061 668.7 1055.4 669.8 1049 C670.9 1042.6 673.7 1033.5 677 1027 C680.3 1020.5 684 1014.1 689.5 1009.7 C695 1005.3 703.1 1000.5 709.9 1000.5Z" fill="none" stroke="#000" stroke-width="5.5" stroke-linecap="round" stroke-linejoin="round"/>
<ellipse cx="802" cy="1271.5" rx="30" ry="15.3" transform="rotate(0 802 1271.5)" fill="none" stroke="#000" stroke-width="4.5"/>
<ellipse cx="802" cy="1271.5" rx="20.7" ry="9.8" transform="rotate(0 802 1271.5)" fill="none" stroke="#000" stroke-width="5"/>
<path d="M866.8 1255.8 L866.4 1281.9" fill="none" stroke="#000" stroke-width="4.5" stroke-linecap="round" stroke-linejoin="round"/>
<path d="M927.4 1255.8 L927.8 1281.9" fill="none" stroke="#000" stroke-width="4.5" stroke-linecap="round" stroke-linejoin="round"/>
<path d="M875.6 1258.5 C876.1 1259.7 875.2 1263.6 878.8 1265.9 C882.4 1268.3 891.2 1272.5 897.4 1272.5 C903.6 1272.5 912.4 1268.3 916 1265.9 C919.5 1263.6 918.2 1259.7 918.6 1258.5" fill="none" stroke="#000" stroke-width="4.5" stroke-linecap="round" stroke-linejoin="round"/>
<path d="M866.6 1267.5 C868.9 1268.6 875.2 1272.4 880.4 1273.9 C885.5 1275.4 891.7 1276.4 897.4 1276.4 C903.1 1276.4 909.4 1275.3 914.4 1273.9 C919.3 1272.5 925 1269 927.1 1268.1" fill="none" stroke="#000" stroke-width="4.5" stroke-linecap="round" stroke-linejoin="round"/>
<path d="M865.5 1276.6 C864.6 1277.6 861.3 1280.3 860.2 1282.9 C859.1 1285.6 859.1 1286 858.9 1292.5 C858.7 1299.1 858.5 1316.6 858.9 1322.3 C859.3 1327.9 860.9 1325.8 861.3 1326.5" fill="none" stroke="#000" stroke-width="4.5" stroke-linecap="round" stroke-linejoin="round"/>
<path d="M927.8 1277.6 C928.7 1278.5 932.1 1280.5 933.5 1282.9 C934.9 1285.4 935.7 1289.5 936.2 1292.5 C936.6 1295.5 936.2 1299.6 936.2 1301" fill="none" stroke="#000" stroke-width="4.5" stroke-linecap="round" stroke-linejoin="round"/>
<path d="M863.9 1288.3 C865.8 1290.6 869.5 1298.8 875.1 1302.1 C880.6 1305.3 889.8 1307.7 897.4 1307.9 C905 1308.1 915.3 1305.7 920.8 1303.1 C926.3 1300.6 928.6 1295.5 930.3 1292.5 C932.1 1289.5 931.2 1286.3 931.4 1285.1" fill="none" stroke="#000" stroke-width="4.5" stroke-linecap="round" stroke-linejoin="round"/>
<path d="M860.7 1324.9 C862.6 1326.2 865.8 1330.8 871.9 1332.9 C878 1335 889.1 1337.3 897.4 1337.4 C905.7 1337.4 917.8 1334.1 921.8 1333.4" fill="none" stroke="#000" stroke-width="4.5" stroke-linecap="round" stroke-linejoin="round"/>
<path d="M866.6 1333.4 C866.6 1340.8 865.7 1368.6 866.6 1377.5 C867.5 1386.5 867.5 1384.8 871.9 1387.1 C876.3 1389.4 886.1 1391.3 893.1 1391.6 C900.2 1391.8 910.8 1389.2 914.4 1388.7" fill="none" stroke="#000" stroke-width="4.5" stroke-linecap="round" stroke-linejoin="round"/>
<path d="M928 1335 L928 1355.2" fill="none" stroke="#000" stroke-width="4.5" stroke-linecap="round" stroke-linejoin="round"/>
<path d="M952.6 1314.8 C957.2 1317.7 968.8 1325.8 980 1332 C991.2 1338.2 1008.3 1349 1020 1352 C1031.7 1355 1040 1351.3 1050 1350 C1060 1348.7 1070 1344 1080 1344 C1090 1344 1098.3 1345.3 1110 1350 C1121.7 1354.7 1143.3 1368.3 1150 1372" fill="none" stroke="#000" stroke-width="4.5" stroke-linecap="round" stroke-linejoin="round"/>
<path d="M939.9 1339.8 C946.6 1343.5 966.6 1355.5 980 1362 C993.4 1368.5 1008.3 1376.7 1020 1379 C1031.7 1381.3 1040 1377.5 1050 1376 C1060 1374.5 1070 1370 1080 1370 C1090 1370 1100.7 1372.3 1110 1376 C1119.3 1379.7 1131.7 1389.3 1136 1392" fill="none" stroke="#000" stroke-width="4.5" stroke-linecap="round" stroke-linejoin="round"/>
<ellipse cx="1144" cy="1383" rx="10" ry="15" transform="rotate(30 1144 1383)" fill="none" stroke="#000" stroke-width="5"/>
<ellipse cx="1144" cy="1383" rx="3.6" ry="7" transform="rotate(30 1144 1383)" fill="none" stroke="#000" stroke-width="3"/>
<ellipse cx="928.5" cy="1322" rx="9.5" ry="14.5" transform="rotate(30 928.5 1322)" fill="none" stroke="#000" stroke-width="4.5"/>
<path d="M922.9 1311.6 C924.3 1306.6 930.7 1305.8 935.6 1304.7 C940.6 1303.7 950.7 1302 952.6 1305.3 C954.6 1308.5 949.3 1318.7 947.3 1324.4 C945.4 1330.1 944.3 1337.5 941 1339.3 C937.6 1341 930.2 1339.6 927.1 1335 C924.1 1330.4 921.5 1316.7 922.9 1311.6Z" fill="#000" stroke="#000" stroke-width="3" stroke-linecap="round" stroke-linejoin="round"/>
<path d="M908 1382.8 C907.7 1380.5 904.8 1373.5 905.9 1369 C907 1364.6 911.2 1358.7 914.4 1356.3 C917.6 1353.8 921.5 1353.8 925 1354.1 C928.6 1354.5 932.1 1356.3 935.6 1358.4 C939.2 1360.5 942.7 1363.2 946.3 1366.9 C949.8 1370.6 955.1 1378.4 956.9 1380.7" fill="none" stroke="#000" stroke-width="4.5" stroke-linecap="round" stroke-linejoin="round"/>
<path d="M908 1382.8 C910.8 1384.4 919.3 1390 925 1392.4 C930.7 1394.8 939.2 1396.4 942 1397.2" fill="none" stroke="#000" stroke-width="4.5" stroke-linecap="round" stroke-linejoin="round"/>
<path d="M922.9 1390.3 C921.7 1387.4 922.5 1381.8 924 1377.5 C925.4 1373.3 928.4 1367.3 931.4 1364.8 C934.4 1362.3 939.5 1361.9 942 1362.6 C944.5 1363.4 946.3 1366.5 946.3 1369 C946.3 1371.5 943.3 1373.6 942 1377.5 C940.8 1381.4 940.6 1389.6 938.8 1392.4 C937.1 1395.2 934 1394.9 931.4 1394.5 C928.7 1394.2 924.1 1393.1 922.9 1390.3Z" fill="#000" stroke="#000" stroke-width="2" stroke-linecap="round" stroke-linejoin="round"/>
<path d="M930.3 1387.1 C929.8 1384.8 931.2 1378.4 932.5 1375.4 C933.7 1372.4 936.2 1369.9 937.8 1369 C939.4 1368.1 941.9 1368.3 942 1370.1 C942.1 1371.9 939.4 1376.5 938.3 1379.6 C937.2 1382.8 937 1388 935.6 1389.2 C934.3 1390.5 930.9 1389.4 930.3 1387.1Z" fill="#fbfbfb" stroke="#000" stroke-width="0" stroke-linecap="round" stroke-linejoin="round"/>
<path d="M946.3 1368 C949.8 1370.3 960.2 1376.1 967.5 1381.8 C974.8 1387.4 982.3 1397 990 1402 C997.7 1407 1000.7 1410.2 1014 1412 C1027.3 1413.8 1060.7 1412.8 1070 1413" fill="none" stroke="#000" stroke-width="4.5" stroke-linecap="round" stroke-linejoin="round"/>
<path d="M942 1396.7 C946.3 1399.1 961.2 1408 967.5 1411.5 C973.9 1415.1 971.9 1415.1 980 1418 C988.1 1420.9 1002 1427.2 1016 1429 C1030 1430.8 1056 1429 1064 1429" fill="none" stroke="#000" stroke-width="4.5" stroke-linecap="round" stroke-linejoin="round"/>
<path d="M1169.7 1344.9 C1170.2 1346 1173.5 1348 1173 1351.5 C1172.5 1355 1168.2 1361.4 1167 1366 C1165.8 1370.6 1165.2 1375.2 1165.7 1379 C1166.2 1382.8 1167.4 1386.9 1169.7 1388.9 C1172 1390.9 1176.2 1391.5 1179.5 1390.9 C1182.8 1390.4 1186.1 1388.7 1189.4 1385.6 C1192.7 1382.5 1197 1376.9 1199.2 1372.5 C1201.4 1368.1 1202.2 1362.9 1202.5 1359.4 C1202.8 1355.9 1202.5 1353.9 1201.2 1351.5 C1199.9 1349.1 1195.5 1347.4 1194.6 1344.9 C1193.7 1342.4 1195.5 1339.2 1196 1336.4 C1196.5 1333.6 1197.6 1329.3 1197.9 1327.9" fill="none" stroke="#000" stroke-width="6.5" stroke-linecap="round" stroke-linejoin="round"/>
<ellipse cx="1181.5" cy="1408" rx="9.5" ry="12" transform="rotate(30 1181.5 1408)" fill="none" stroke="#000" stroke-width="6.5"/>
<path d="M431 186 L504 272.5" stroke="#000" stroke-width="4.5" stroke-linecap="round" fill="none"/>
<path d="M304.5 324 L392.5 431" stroke="#000" stroke-width="4.5" stroke-linecap="round" fill="none"/>
<path d="M767.5 265 L657.5 347.5" stroke="#000" stroke-width="4.5" stroke-linecap="round" fill="none"/>
<path d="M841.5 412.5 L792.5 539" stroke="#000" stroke-width="4.5" stroke-linecap="round" fill="none"/>
<path d="M1151 321 L1036 495" stroke="#000" stroke-width="4.5" stroke-linecap="round" fill="none"/>
<path d="M1306 578.5 L1157.5 665" stroke="#000" stroke-width="4.5" stroke-linecap="round" fill="none"/>
<path d="M367.5 931 L456 961" stroke="#000" stroke-width="4.5" stroke-linecap="round" fill="none"/>
<path d="M478.5 1004 L496.5 1051" stroke="#000" stroke-width="4.5" stroke-linecap="round" fill="none"/>
<path d="M642.5 979 L696 944" stroke="#000" stroke-width="4.5" stroke-linecap="round" fill="none"/>
<path d="M665 1157.5 L694 1085" stroke="#000" stroke-width="4.5" stroke-linecap="round" fill="none"/>
<path d="M833.5 1079 L897.5 1007.5" stroke="#000" stroke-width="4.5" stroke-linecap="round" fill="none"/>
<path d="M192.5 1271 L350 1166" stroke="#000" stroke-width="4.5" stroke-linecap="round" fill="none"/>
<path d="M262.5 1388.5 L495 1337.5" stroke="#000" stroke-width="4.5" stroke-linecap="round" fill="none"/>
<path d="M685 1377.5 L775 1289" stroke="#000" stroke-width="4.5" stroke-linecap="round" fill="none"/>
<path d="M810 1414 L867.5 1384" stroke="#000" stroke-width="4.5" stroke-linecap="round" fill="none"/>
<path d="M1231 1059 L1385.4 1125.6" stroke="#000" stroke-width="4.5" stroke-linecap="round" fill="none"/>
<path d="M944 1232 L1084 1274.7" stroke="#000" stroke-width="4.5" stroke-linecap="round" fill="none"/>
<path d="M1207 1352 L1358.7 1310.6" stroke="#000" stroke-width="4.5" stroke-linecap="round" fill="none"/>
<path d="M452 296 C455 293.8 465.3 286.8 470 283 C474.7 279.2 477.7 276.8 480 273 C482.3 269.2 482.7 263.2 484 260 C485.3 256.8 486 255.2 488 254 C490 252.8 492.3 253 496 252.8 C499.7 252.6 505.7 253.2 510 253 C514.3 252.8 517.7 252.7 522 251.5 C526.3 250.3 531.7 247.3 536 246 C540.3 244.7 544.8 243.7 548 243.5 C551.2 243.3 553.4 243.9 555 245 C556.6 246.1 557.2 248.3 557.5 250 C557.8 251.7 556.6 253.3 557 255 C557.4 256.7 558.2 258.5 560 260 C561.8 261.5 565.3 262.8 568 264 C570.7 265.2 574.3 265.8 576 267 C577.7 268.2 578.5 269.5 578 271 C577.5 272.5 576 273.5 573 276 C570 278.5 563.5 283 560 286 C556.5 289 553.7 291.3 552 294 C550.3 296.7 550.8 299.7 550 302 C549.2 304.3 549 306.2 547 308 C545 309.8 541.7 312.3 538 313 C534.3 313.7 528.7 312.2 525 312 C521.3 311.8 519.3 311.2 516 311.5 C512.7 311.8 509 312.2 505 314 C501 315.8 495.8 320.1 492 322 C488.2 323.9 484.8 324.9 482 325.5 C479.2 326.1 476.3 326.4 475 325.5 C473.7 324.6 474.5 322.2 474 320 C473.5 317.8 473.5 314.3 472 312 C470.5 309.7 468.3 308 465 306 C461.7 304 454.2 301.7 452 300 C449.8 298.3 452 296.7 452 296" fill="none" stroke="#000" stroke-width="4.5" stroke-linecap="round" stroke-linejoin="round"/>
<path d="M452 300 C452.5 301.7 453.7 306.7 455 310 C456.3 313.3 457.5 317.7 460 320 C462.5 322.3 467.5 322.5 470 324 C472.5 325.5 473.3 326.3 475 329 C476.7 331.7 477.8 337.3 480 340 C482.2 342.7 485.3 344.5 488 345 C490.7 345.5 492.3 344.7 496 343 C499.7 341.3 505.7 337.2 510 335 C514.3 332.8 517.8 330.7 522 330 C526.2 329.3 531.2 330.8 535 331 C538.8 331.2 541.7 331.8 545 331 C548.3 330.2 552.5 328.3 555 326 C557.5 323.7 558.3 319.8 560 317 C561.7 314.2 562 311.8 565 309 C568 306.2 574.8 302.5 578 300 C581.2 297.5 583 296.3 584 294 C585 291.7 584.7 289.3 584 286 C583.3 282.7 581 276.5 580 274 C579 271.5 578.3 271.5 578 271" fill="none" stroke="#000" stroke-width="4.5" stroke-linecap="round" stroke-linejoin="round"/>
<path d="M574 314 C579.4 314.3 608.1 313.7 620 316.5 C631.9 319.3 664.3 331.8 676 338 C687.7 344.2 713.2 363.7 720 370 C726.8 376.3 732.1 387.1 734 392 C735.9 396.9 735.8 409.3 736 412 C736.2 414.7 735.6 414.6 735.5 415" fill="none" stroke="#000" stroke-width="4.5" stroke-linecap="round" stroke-linejoin="round"/>
<path d="M735.5 413.8 L737 417 L731.2 423" fill="none" stroke="#000" stroke-width="4.5" stroke-linecap="round" stroke-linejoin="round"/>
<path d="M513.8 340 C507.9 344.7 485.2 362.2 478.8 368 C472.3 373.8 475.6 373.4 475 374.5" fill="none" stroke="#000" stroke-width="4.5" stroke-linecap="round" stroke-linejoin="round"/>
<path d="M475 374.5 C476 373.3 477.9 368.9 481.2 367.5 C484.6 366.1 483.1 365.6 495 366.2 C506.9 366.9 536.7 368.3 552.5 371.2 C568.3 374.2 580 380 590 383.8 C600 387.5 604.2 389.2 612.5 393.8 C620.8 398.3 632.5 405.2 640 411.2 C647.5 417.3 652.9 423.5 657.5 430 C662.1 436.5 665.4 444.6 667.5 450 C669.6 455.4 669.6 460.4 670 462.5" fill="none" stroke="#000" stroke-width="4.5" stroke-linecap="round" stroke-linejoin="round"/>
<path d="M475 374.5 L476.2 395 L481.2 400.5 L670 468.5" fill="none" stroke="#000" stroke-width="4.5" stroke-linecap="round" stroke-linejoin="round"/>
<path d="M477.5 392.5 L669.5 463" fill="none" stroke="#000" stroke-width="4.5" stroke-linecap="round" stroke-linejoin="round"/>
<path d="M670 462.5 L735.5 415" fill="none" stroke="#000" stroke-width="4.5" stroke-linecap="round" stroke-linejoin="round"/>
<path d="M670 468.5 L735 420.5" fill="none" stroke="#000" stroke-width="4.5" stroke-linecap="round" stroke-linejoin="round"/>
<path d="M667.5 430 L718.8 390" fill="none" stroke="#000" stroke-width="4.5" stroke-linecap="round" stroke-linejoin="round"/>
<path d="M670 437.5 L723.8 394.5" fill="none" stroke="#000" stroke-width="4.5" stroke-linecap="round" stroke-linejoin="round"/>
<path d="M485 402.5 L491.2 440" fill="none" stroke="#000" stroke-width="4.5" stroke-linecap="round" stroke-linejoin="round"/>
<path d="M515 412.5 L528.8 481.2" fill="none" stroke="#000" stroke-width="4.5" stroke-linecap="round" stroke-linejoin="round"/>
<path d="M547.5 423.8 L556.2 472.5" fill="none" stroke="#000" stroke-width="4.5" stroke-linecap="round" stroke-linejoin="round"/>
<path d="M578.8 435 L587.5 480" fill="none" stroke="#000" stroke-width="4.5" stroke-linecap="round" stroke-linejoin="round"/>
<path d="M610 447.5 L622.5 515" fill="none" stroke="#000" stroke-width="4.5" stroke-linecap="round" stroke-linejoin="round"/>
<path d="M641.2 460 L645 480" fill="none" stroke="#000" stroke-width="4.5" stroke-linecap="round" stroke-linejoin="round"/>
<path d="M498.8 431.2 L635 483.8" fill="none" stroke="#000" stroke-width="4.5" stroke-linecap="round" stroke-linejoin="round"/>
<path d="M603.8 505 L623.8 515" fill="none" stroke="#000" stroke-width="4.5" stroke-linecap="round" stroke-linejoin="round"/>
<path d="M730 425 L756.2 580 L766.2 585" fill="none" stroke="#000" stroke-width="4.5" stroke-linecap="round" stroke-linejoin="round"/>
<path d="M766.2 585 C768.5 586.7 776.2 590 780 595 C783.8 600 786.9 607.5 788.8 615 C790.6 622.5 791.2 631.7 791.2 640 C791.2 648.3 790.2 657.9 788.8 665 C787.3 672.1 784.8 676.7 782.5 682.5 C780.2 688.3 776.2 697.1 775 700" fill="none" stroke="#000" stroke-width="4.5" stroke-linecap="round" stroke-linejoin="round"/>
<path d="M775 700 L797.5 822.5" fill="none" stroke="#000" stroke-width="4.5" stroke-linecap="round" stroke-linejoin="round"/>
<path d="M797.5 822.5 C797.3 825.4 798.3 834.6 796.2 840 C794.2 845.4 789.8 850.4 785 855 C780.2 859.6 773.3 863.5 767.5 867.5 C761.7 871.5 755.4 876.2 750 878.8 C744.6 881.2 740 882.3 735 882.5 C730 882.7 722.5 880.4 720 880" fill="none" stroke="#000" stroke-width="4.5" stroke-linecap="round" stroke-linejoin="round"/>
<path d="M720 880 L647.5 852.5" fill="none" stroke="#000" stroke-width="4.5" stroke-linecap="round" stroke-linejoin="round"/>
<path d="M674.4 492.5 C670.7 495.4 658.2 505 652.5 510 C646.8 515 642.7 517.9 640 522.5 C637.3 527.1 636.5 530.8 636.2 537.5 C636 544.2 636.7 554.6 638.8 562.5 C640.8 570.4 644.8 577.7 648.8 585 C652.7 592.3 657.7 600.4 662.5 606.2 C667.3 612.1 671.9 616.2 677.5 620 C683.1 623.8 693.1 627.3 696.2 628.8" fill="none" stroke="#000" stroke-width="4.5" stroke-linecap="round" stroke-linejoin="round"/>
<path d="M660 486.2 C655.8 489.6 641.2 499.8 635 506.2 C628.8 512.7 624.8 518.1 622.5 525 C620.2 531.9 620.4 539.6 621.2 547.5 C622.1 555.4 624.4 565 627.5 572.5 C630.6 580 634.6 586.2 640 592.5 C645.4 598.8 650.6 604 660 610 C669.4 616 690.2 625.6 696.2 628.8" fill="none" stroke="#000" stroke-width="4.5" stroke-linecap="round" stroke-linejoin="round"/>
<path d="M670 465 L674.4 492.5" fill="none" stroke="#000" stroke-width="4.5" stroke-linecap="round" stroke-linejoin="round"/>
<path d="M696.2 628.8 L711.2 715.6" fill="none" stroke="#000" stroke-width="4.5" stroke-linecap="round" stroke-linejoin="round"/>
<path d="M711.2 715.6 C708.8 717.8 701 723.4 696.2 728.8 C691.5 734.1 685.8 740 682.5 747.5 C679.2 755 676.9 765 676.2 773.8 C675.6 782.5 677.1 792.1 678.8 800 C680.4 807.9 683.1 815.6 686.2 821.2 C689.4 826.9 693.5 830.2 697.5 833.8 C701.5 837.3 703.9 839.3 710 842.5 C716.1 845.7 730.3 851.4 734.4 853.1" fill="none" stroke="#000" stroke-width="4.5" stroke-linecap="round" stroke-linejoin="round"/>
<path d="M697.5 710 C694.6 712.7 685 720 680 726.2 C675 732.5 670.4 739.4 667.5 747.5 C664.6 755.6 663.1 766.2 662.5 775 C661.9 783.8 662.5 792.7 663.8 800 C665 807.3 667.1 813.5 670 818.8 C672.9 824 677.1 827.7 681.2 831.2 C685.4 834.8 692.7 838.5 695 840" fill="none" stroke="#000" stroke-width="4.5" stroke-linecap="round" stroke-linejoin="round"/>
<path d="M734.4 853.1 L737.5 875" fill="none" stroke="#000" stroke-width="4.5" stroke-linecap="round" stroke-linejoin="round"/>
<ellipse cx="661.9" cy="540.6" rx="6.5" ry="10" transform="rotate(20 661.9 540.6)" fill="none" stroke="#000" stroke-width="4.5"/>
<ellipse cx="670" cy="582.5" rx="4.5" ry="8" transform="rotate(20 670 582.5)" fill="none" stroke="#000" stroke-width="4.5"/>
<ellipse cx="766.8" cy="640" rx="6.5" ry="10" transform="rotate(20 766.8 640)" fill="none" stroke="#000" stroke-width="4.5"/>
<ellipse cx="700.6" cy="769.4" rx="5" ry="7.5" transform="rotate(20 700.6 769.4)" fill="none" stroke="#000" stroke-width="4.5"/>
<ellipse cx="707.5" cy="813" rx="6.5" ry="10.5" transform="rotate(20 707.5 813)" fill="none" stroke="#000" stroke-width="4.5"/>
<path d="M556.2 460 L556.9 472.5" fill="none" stroke="#000" stroke-width="4.5" stroke-linecap="round" stroke-linejoin="round"/>
<path d="M582.5 460 L586.2 480" fill="none" stroke="#000" stroke-width="4.5" stroke-linecap="round" stroke-linejoin="round"/>
<path d="M610 460 L621.2 515" fill="none" stroke="#000" stroke-width="4.5" stroke-linecap="round" stroke-linejoin="round"/>
<path d="M641.2 460 L644.4 480" fill="none" stroke="#000" stroke-width="4.5" stroke-linecap="round" stroke-linejoin="round"/>
<path d="M586.2 466.2 L635 483.1" fill="none" stroke="#000" stroke-width="4.5" stroke-linecap="round" stroke-linejoin="round"/>
<path d="M603.8 505 L623.8 511.9" fill="none" stroke="#000" stroke-width="4.5" stroke-linecap="round" stroke-linejoin="round"/>
<path d="M592.5 535 L610 541.2" fill="none" stroke="#000" stroke-width="4.5" stroke-linecap="round" stroke-linejoin="round"/>
<path d="M595 537.5 L602.5 580" fill="none" stroke="#000" stroke-width="4.5" stroke-linecap="round" stroke-linejoin="round"/>
<path d="M583.1 565.6 L612.5 576.2" fill="none" stroke="#000" stroke-width="4.5" stroke-linecap="round" stroke-linejoin="round"/>
<path d="M635.6 602.5 L643.8 660" fill="none" stroke="#000" stroke-width="4.5" stroke-linecap="round" stroke-linejoin="round"/>
<path d="M630 617.5 L681.2 636.2" fill="none" stroke="#000" stroke-width="4.5" stroke-linecap="round" stroke-linejoin="round"/>
<path d="M667.5 626.2 L675 660" fill="none" stroke="#000" stroke-width="4.5" stroke-linecap="round" stroke-linejoin="round"/>
<path d="M621.2 647.5 L652.5 660" fill="none" stroke="#000" stroke-width="4.5" stroke-linecap="round" stroke-linejoin="round"/>
<path d="M635 602.5 L658.8 747.5" fill="none" stroke="#000" stroke-width="4.5" stroke-linecap="round" stroke-linejoin="round"/>
<path d="M670 627.5 L683.8 712.5" fill="none" stroke="#000" stroke-width="4.5" stroke-linecap="round" stroke-linejoin="round"/>
<path d="M621.2 647.5 L690 672.5" fill="none" stroke="#000" stroke-width="4.5" stroke-linecap="round" stroke-linejoin="round"/>
<path d="M628.8 685 L692.5 708.8" fill="none" stroke="#000" stroke-width="4.5" stroke-linecap="round" stroke-linejoin="round"/>
<path d="M632.5 720 L667.5 733.8" fill="none" stroke="#000" stroke-width="4.5" stroke-linecap="round" stroke-linejoin="round"/>
<path d="M640 756.2 L657.5 762.5" fill="none" stroke="#000" stroke-width="4.5" stroke-linecap="round" stroke-linejoin="round"/>
<path d="M640 788.8 L656.2 793.8" fill="none" stroke="#000" stroke-width="4.5" stroke-linecap="round" stroke-linejoin="round"/>
<path d="M660 830 L685 840" fill="none" stroke="#000" stroke-width="4.5" stroke-linecap="round" stroke-linejoin="round"/>
<path d="M671.2 830 L677.5 855" fill="none" stroke="#000" stroke-width="4.5" stroke-linecap="round" stroke-linejoin="round"/>
<path d="M591 595 L630 842" fill="none" stroke="#000" stroke-width="4.5" stroke-linecap="round" stroke-linejoin="round"/>
<path d="M607 627 L637.5 805" fill="none" stroke="#000" stroke-width="4.5" stroke-linecap="round" stroke-linejoin="round"/>
<path d="M607.5 843.8 L631.2 842.5 L642.5 833.8 L641.2 821.2" fill="none" stroke="#000" stroke-width="4.5" stroke-linecap="round" stroke-linejoin="round"/>
<path d="M620 845 L630.6 896.5" fill="none" stroke="#000" stroke-width="4.5" stroke-linecap="round" stroke-linejoin="round"/>
<path d="M584.4 485.6 L590.6 523.8 L579.4 531.2" fill="none" stroke="#000" stroke-width="4.5" stroke-linecap="round" stroke-linejoin="round"/>
<path d="M573.8 491.9 L579.4 530" fill="none" stroke="#000" stroke-width="4.5" stroke-linecap="round" stroke-linejoin="round"/>
<path d="M579.4 531.2 L576.2 534.8 L556.9 534.8 L566.2 598.5 L591.9 594.8 L601.2 588.5 L578.1 589.8 L566.2 598.5" fill="none" stroke="#000" stroke-width="4.5" stroke-linecap="round" stroke-linejoin="round"/>
<path d="M568.5 536.2 L579 589.4" fill="none" stroke="#000" stroke-width="4.5" stroke-linecap="round" stroke-linejoin="round"/>
<path d="M601.2 588.8 L605 602.5" fill="none" stroke="#000" stroke-width="4.5" stroke-linecap="round" stroke-linejoin="round"/>
<ellipse cx="616.9" cy="620.6" rx="6.5" ry="9.5" transform="rotate(20 616.9 620.6)" fill="none" stroke="#000" stroke-width="4.5"/>
<path d="M610 626.9 C608.3 626.2 602.3 624.8 600 623.1 C597.7 621.5 596.2 619.2 596 616.9 C595.8 614.6 597.1 610.9 598.8 609.4 C600.4 607.8 602.9 607.1 605.6 607.5 C608.3 607.9 613.4 610.8 615 611.5" fill="none" stroke="#000" stroke-width="4.5" stroke-linecap="round" stroke-linejoin="round"/>
<ellipse cx="650" cy="816.2" rx="6" ry="8.5" transform="rotate(20 650 816.2)" fill="none" stroke="#000" stroke-width="4.5"/>
<path d="M645 807.5 C642.9 806.7 635.2 801.9 632.5 802.5 C629.8 803.1 629 808.3 628.8 811.2 C628.5 814.2 628.8 817.8 631.2 820 C633.8 822.2 641.7 823.7 643.8 824.4" fill="none" stroke="#000" stroke-width="4.5" stroke-linecap="round" stroke-linejoin="round"/>
<path d="M318.8 447.5 L328.8 437 L444.5 432 L450 458.8" fill="none" stroke="#000" stroke-width="4.5" stroke-linecap="round" stroke-linejoin="round"/>
<path d="M318.8 447.5 L435 440 L444.5 432" fill="none" stroke="#000" stroke-width="4.5" stroke-linecap="round" stroke-linejoin="round"/>
<path d="M435 440 L439 461.2" fill="none" stroke="#000" stroke-width="4.5" stroke-linecap="round" stroke-linejoin="round"/>
<path d="M318.8 447.5 L392.5 897.5 L455 892.5" fill="none" stroke="#000" stroke-width="4.5" stroke-linecap="round" stroke-linejoin="round"/>
<path d="M392 580 L398.8 579 L408 595 L402.5 598 L393 589.5 L392 580" fill="none" stroke="#000" stroke-width="4.5" stroke-linecap="round" stroke-linejoin="round"/>
<path d="M388.8 473.8 L398 464.5 L513.8 458 L520 485" fill="none" stroke="#000" stroke-width="4.5" stroke-linecap="round" stroke-linejoin="round"/>
<path d="M388.8 473.8 L506.2 466.2 L513.8 458" fill="none" stroke="#000" stroke-width="4.5" stroke-linecap="round" stroke-linejoin="round"/>
<path d="M506.2 466.2 L509.5 487.5" fill="none" stroke="#000" stroke-width="4.5" stroke-linecap="round" stroke-linejoin="round"/>
<path d="M388.8 473.8 L462.5 923.8 L525 918.8" fill="none" stroke="#000" stroke-width="4.5" stroke-linecap="round" stroke-linejoin="round"/>
<path d="M462 612 L472.5 610.8 L478 625 L472.5 626.5 L463.8 619.5 L462 612" fill="none" stroke="#000" stroke-width="4.5" stroke-linecap="round" stroke-linejoin="round"/>
<path d="M425 778 L435 776.5 L441.8 798 L428 788 L425 778" fill="none" stroke="#000" stroke-width="4.5" stroke-linecap="round" stroke-linejoin="round"/>
<path d="M496.2 809.2 L507 808 L512 825.5 L500 818.8 L496.2 809.2" fill="none" stroke="#000" stroke-width="4.5" stroke-linecap="round" stroke-linejoin="round"/>
<path d="M458.8 501.2 L466.2 492.5 L585 485" fill="none" stroke="#000" stroke-width="4.5" stroke-linecap="round" stroke-linejoin="round"/>
<path d="M458.8 501.2 L576.2 495 L585 485" fill="none" stroke="#000" stroke-width="4.5" stroke-linecap="round" stroke-linejoin="round"/>
<path d="M458.8 501.2 L532.5 951.2 L648.8 945 L660 937.5 L653.8 896.2 L630 899.5 L617.5 907.5 L607.5 843.8" fill="none" stroke="#000" stroke-width="4.5" stroke-linecap="round" stroke-linejoin="round"/>
<path d="M648.8 945 L642.5 907.5 L617.5 907.5" fill="none" stroke="#000" stroke-width="4.5" stroke-linecap="round" stroke-linejoin="round"/>
<path d="M810.00 216.00 L810.00 258.00 L801.00 258.00 L801.00 230.00 L791.00 234.20 L791.00 226.50 C796.00 224.00 800.00 220.00 802.50 217.20 Q803.50 216.00 805.50 216.00 Z" fill="#000"/>
<text transform="translate(393.14 181.00) scale(0.9310 1.0244)" font-family="Liberation Sans" font-weight="bold" font-size="60">2</text>
<text transform="translate(269.14 313.00) scale(0.9310 1.0244)" font-family="Liberation Sans" font-weight="bold" font-size="60">3</text>
<text transform="translate(836.06 392.00) scale(0.9375 1.0000)" font-family="Liberation Sans" font-weight="bold" font-size="60">4</text>
<path d="M1159.45 261.00 L1159.45 303.00 L1150.45 303.00 L1150.45 275.00 L1140.45 279.20 L1140.45 271.50 C1145.45 269.00 1149.45 265.00 1151.95 262.20 Q1152.95 261.00 1154.95 261.00 Z" fill="#000"/>
<text transform="translate(1165.03 303.00) scale(0.9911 1.0244)" font-family="Liberation Sans" font-weight="bold" font-size="60">7</text>
<path d="M1352.70 544.00 L1352.70 586.00 L1343.70 586.00 L1343.70 558.00 L1333.70 562.20 L1333.70 554.50 C1338.70 552.00 1342.70 548.00 1345.20 545.20 Q1346.20 544.00 1348.20 544.00 Z" fill="#000"/>
<text transform="translate(1360.42 586.00) scale(0.9167 1.0244)" font-family="Liberation Sans" font-weight="bold" font-size="60">5</text>
<text transform="translate(464.00 989.00) scale(1.0000 1.0000)" font-family="Liberation Sans" font-weight="bold" font-size="60">7</text>
<text transform="translate(604.07 1012.10) scale(0.9281 1.0024)" font-family="Liberation Sans" font-weight="bold" font-size="60">4</text>
<text transform="translate(626.95 1214.50) scale(0.9267 1.0122)" font-family="Liberation Sans" font-weight="bold" font-size="60">5</text>
<path d="M793.70 1087.00 L793.70 1128.00 L784.91 1128.00 L784.91 1100.67 L775.15 1104.77 L775.15 1097.25 C780.03 1094.81 783.94 1090.90 786.38 1088.17 Q787.35 1087.00 789.31 1087.00 Z" fill="#000"/>
<text transform="translate(800.07 1128.00) scale(0.9312 1.0000)" font-family="Liberation Sans" font-weight="bold" font-size="60">4</text>
<text transform="translate(151.14 1314.00) scale(0.9310 1.0244)" font-family="Liberation Sans" font-weight="bold" font-size="60">8</text>
<text transform="translate(223.09 1415.60) scale(0.9552 1.0317)" font-family="Liberation Sans" font-weight="bold" font-size="60">9</text>
<path d="M651.60 1384.00 L651.60 1425.80 L642.64 1425.80 L642.64 1397.93 L632.69 1402.11 L632.69 1394.45 C637.67 1391.96 641.65 1387.98 644.14 1385.19 Q645.13 1384.00 647.12 1384.00 Z" fill="#000"/>
<text transform="translate(659.03 1425.80) scale(0.9345 1.0195)" font-family="Liberation Sans" font-weight="bold" font-size="60">0</text>
<path d="M771.00 1417.00 L771.00 1459.00 L762.00 1459.00 L762.00 1431.00 L752.00 1435.20 L752.00 1427.50 C757.00 1425.00 761.00 1421.00 763.50 1418.20 Q764.50 1417.00 766.50 1417.00 Z" fill="#000"/>
<path d="M798.30 1417.00 L798.30 1459.00 L789.30 1459.00 L789.30 1431.00 L779.30 1435.20 L779.30 1427.50 C784.30 1425.00 788.30 1421.00 790.80 1418.20 Q791.80 1417.00 793.80 1417.00 Z" fill="#000"/>
<path d="M1408.70 1109.00 L1408.70 1152.00 L1399.49 1152.00 L1399.49 1123.33 L1389.25 1127.63 L1389.25 1119.75 C1394.37 1117.19 1398.46 1113.10 1401.02 1110.23 Q1402.05 1109.00 1404.09 1109.00 Z" fill="#000"/>
<text transform="translate(1415.73 1152.00) scale(0.9345 1.0488)" font-family="Liberation Sans" font-weight="bold" font-size="60">6</text>
<path d="M1116.60 1265.00 L1116.60 1306.00 L1107.81 1306.00 L1107.81 1278.67 L1098.05 1282.77 L1098.05 1275.25 C1102.93 1272.81 1106.84 1268.90 1109.28 1266.17 Q1110.25 1265.00 1112.21 1265.00 Z" fill="#000"/>
<text transform="translate(1123.13 1306.00) scale(0.9345 1.0000)" font-family="Liberation Sans" font-weight="bold" font-size="60">2</text>
<path d="M1390.60 1278.20 L1390.60 1321.00 L1381.43 1321.00 L1381.43 1292.47 L1371.24 1296.75 L1371.24 1288.90 C1376.33 1286.35 1380.41 1282.28 1382.96 1279.42 Q1383.98 1278.20 1386.01 1278.20 Z" fill="#000"/>
<text transform="translate(1397.82 1321.00) scale(0.9414 1.0439)" font-family="Liberation Sans" font-weight="bold" font-size="60">3</text>
</svg>
</body></html>
